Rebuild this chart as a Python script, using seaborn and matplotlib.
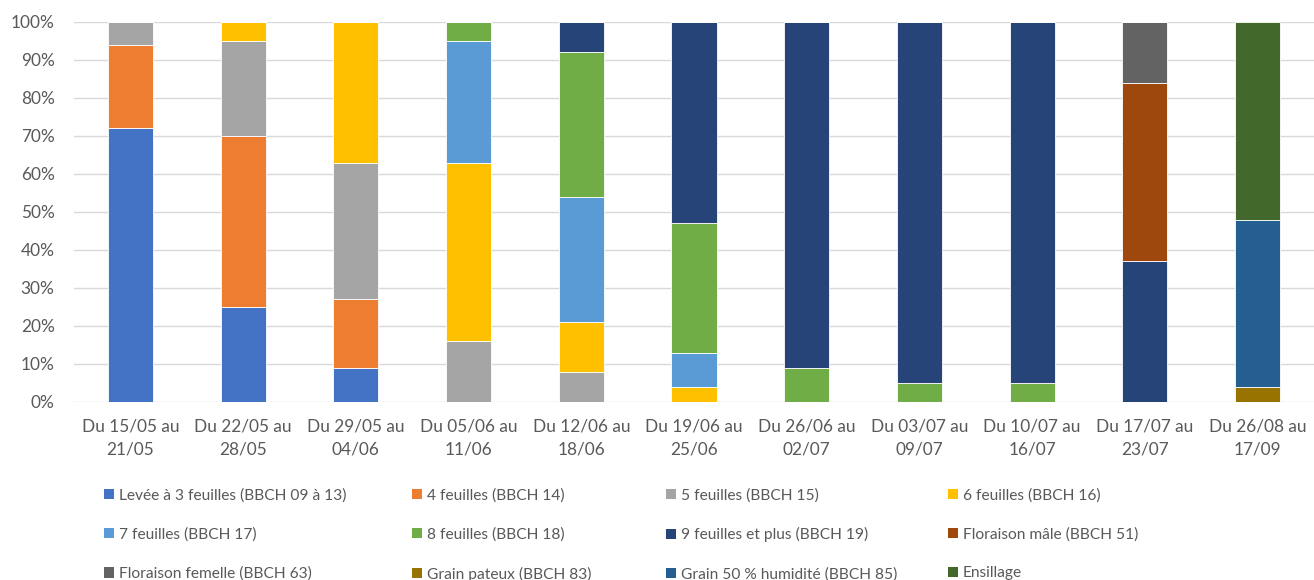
import matplotlib
matplotlib.use("Agg")
import matplotlib.pyplot as plt
from matplotlib.patches import Patch
from matplotlib.ticker import PercentFormatter
import seaborn as sns
import pandas as pd

periods = [
    "Du 15/05 au\n21/05", "Du 22/05 au\n28/05", "Du 29/05 au\n04/06",
    "Du 05/06 au\n11/06", "Du 12/06 au\n18/06", "Du 19/06 au\n25/06",
    "Du 26/06 au\n02/07", "Du 03/07 au\n09/07", "Du 10/07 au\n16/07",
    "Du 17/07 au\n23/07", "Du 26/08 au\n17/09",
]

stages = [
    "Levée à 3 feuilles (BBCH 09 à 13)", "4 feuilles (BBCH 14)",
    "5 feuilles (BBCH 15)", "6 feuilles (BBCH 16)",
    "7 feuilles (BBCH 17)", "8 feuilles (BBCH 18)",
    "9 feuilles et plus (BBCH 19)", "Floraison mâle (BBCH 51)",
    "Floraison femelle (BBCH 63)", "Grain pateux (BBCH 83)",
    "Grain 50 % humidité (BBCH 85)", "Ensillage",
]

# Share of plots (%) at each stage, one list per stage, one value per week
levee         = [72, 25,  9,  0,  0,  0,  0,  0,  0,  0,  0]
f4            = [22, 45, 18,  0,  0,  0,  0,  0,  0,  0,  0]
f5            = [ 6, 25, 36, 16,  8,  0,  0,  0,  0,  0,  0]
f6            = [ 0,  5, 37, 47, 13,  4,  0,  0,  0,  0,  0]
f7            = [ 0,  0,  0, 32, 33,  9,  0,  0,  0,  0,  0]
f8            = [ 0,  0,  0,  5, 38, 34,  9,  5,  5,  0,  0]
f9            = [ 0,  0,  0,  0,  8, 53, 91, 95, 95, 37,  0]
flo_male      = [ 0,  0,  0,  0,  0,  0,  0,  0,  0, 47,  0]
flo_femelle   = [ 0,  0,  0,  0,  0,  0,  0,  0,  0, 16,  0]
grain_pateux  = [ 0,  0,  0,  0,  0,  0,  0,  0,  0,  0,  4]
grain_50      = [ 0,  0,  0,  0,  0,  0,  0,  0,  0,  0, 44]
ensillage     = [ 0,  0,  0,  0,  0,  0,  0,  0,  0,  0, 52]

series = [levee, f4, f5, f6, f7, f8, f9, flo_male, flo_femelle,
          grain_pateux, grain_50, ensillage]

colors = ["#4472C4", "#ED7D31", "#A5A5A5", "#FFC000", "#5B9BD5", "#70AD47",
          "#264478", "#9E480E", "#636363", "#997300", "#255E91", "#43682B"]

rows = []
for stage, vals in zip(stages, series):
    for period, v in zip(periods, vals):
        rows.append({"period": period, "stage": stage, "pct": v})
df = pd.DataFrame(rows)
df["period"] = pd.Categorical(df["period"], categories=periods, ordered=True)
df["x"] = df["period"].cat.codes

sns.set_theme(style="white")
plt.rcParams["font.family"] = ["Lato", "DejaVu Sans"]
text_color = "#595959"
grid_color = "#D9D9D9"

fig = plt.figure(figsize=(13.14, 5.8), dpi=100)
ax = fig.add_axes([74 / 1314, 178 / 580, 1240 / 1314, 380 / 580])

palette = dict(zip(stages, colors))
sns.histplot(
    data=df, x="x", hue="stage", weights="pct", hue_order=stages[::-1],
    palette=palette, multiple="stack", discrete=True, shrink=0.4,
    alpha=1, edgecolor="white", linewidth=0.6, legend=False, ax=ax,
)

ax.set_xlim(-0.5, len(periods) - 0.5)
ax.set_ylim(0, 100)
ax.set_yticks(range(0, 101, 10))
ax.yaxis.set_major_formatter(PercentFormatter(decimals=0))
ax.set_xticks(range(len(periods)))
ax.set_xticklabels(periods, linespacing=1.5)
ax.set_xlabel("")
ax.set_ylabel("")
ax.grid(axis="y", color=grid_color, linewidth=1)
ax.set_axisbelow(True)
for s in ax.spines.values():
    s.set_visible(False)
ax.tick_params(axis="both", length=0, colors=text_color, labelsize=12.4)
ax.tick_params(axis="y", pad=14)
ax.tick_params(axis="x", pad=12)

# Legend laid out in four columns, filled row by row
col_x = [104, 412, 666, 948]
for c in range(4):
    idx = [c, c + 4, c + 8]
    handles = [Patch(facecolor=colors[i], edgecolor="none") for i in idx]
    labels = [stages[i] for i in idx]
    fig.legend(
        handles, labels, loc="upper left",
        bbox_to_anchor=(col_x[c] / 1314, 1 - 488 / 580),
        frameon=False, fontsize=11.2, labelcolor=text_color,
        handlelength=0.65, handleheight=0.65, handletextpad=0.3,
        labelspacing=1.6, borderpad=0, borderaxespad=0,
    )

fig.savefig("out.png", dpi=100)
